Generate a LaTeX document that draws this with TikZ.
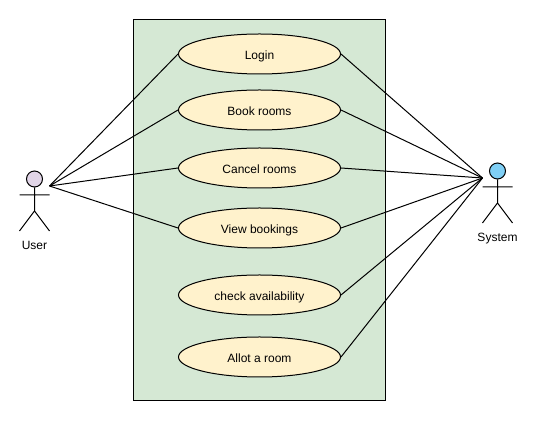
\documentclass[tikz,border=0pt]{standalone}
\usepackage{fontspec}
\setmainfont{Liberation Sans}
\usetikzlibrary{shapes.geometric}
\definecolor{sysgreen}{HTML}{D5E8D4}
\definecolor{ucfill}{HTML}{FFF2CC}
\definecolor{userfill}{HTML}{E1D5E7}
\definecolor{sysfill}{HTML}{7FCFF5}
\tikzset{
  ln/.style={draw=black,line width=0.75pt},
  usecase/.style={ellipse,ln,fill=ucfill,minimum width=121.5pt,minimum height=30pt,inner sep=0pt,text height=10.2pt,text depth=1.5pt,font=\fontsize{9}{11}\selectfont},
  head/.style={circle,ln,minimum size=12pt,inner sep=0pt},
  actorlabel/.style={font=\fontsize{9}{11}\selectfont,inner sep=0pt,anchor=base},
}
\begin{document}
\begin{tikzpicture}[x=0.75pt,y=-0.75pt,every path/.style={line width=0.75pt}]
\useasboundingbox (0,0) rectangle (533,423);
\node[ln,fill=sysgreen,minimum width=189pt,minimum height=285.75pt,inner sep=0pt] (boundary) at (259.5,210) {};
\node[usecase] (login) at (259.5,54) {Login};
\node[usecase] (book) at (259.5,110) {Book rooms};
\node[usecase] (cancel) at (259.5,168) {Cancel rooms};
\node[usecase] (view) at (259.5,228) {View bookings};
\node[usecase] (check) at (259.5,295) {check availability};
\node[usecase] (allot) at (259.5,357) {Allot a room};
% user actor
\node[head,fill=userfill] (uhead) at (34.5,179) {};
\coordinate (uarmL) at (19.5,195);
\coordinate (uarmR) at (49.5,195);
\coordinate (uhip) at (34.5,211);
\coordinate (ulegL) at (19.5,231);
\coordinate (ulegR) at (49.5,231);
\draw[ln] (uhead.south) -- (uhip) (uarmL) -- (uarmR) (ulegL) -- (uhip) -- (ulegR);
\node[actorlabel] (ulabel) at (34.5,249.8) {User};
\coordinate (utip) at (49.5,186);
% system actor
\node[head,fill=sysfill] (shead) at (497.5,171) {};
\coordinate (sarmL) at (482.5,187);
\coordinate (sarmR) at (512.5,187);
\coordinate (ship) at (497.5,203);
\coordinate (slegL) at (482.5,223);
\coordinate (slegR) at (512.5,223);
\draw[ln] (shead.south) -- (ship) (sarmL) -- (sarmR) (slegL) -- (ship) -- (slegR);
\node[actorlabel] (slabel) at (497.5,241.8) {System};
\coordinate (stip) at (482.5,178);
% connectors
\foreach \n in {login,book,cancel,view}
  \draw[ln] (utip) -- (\n.west);
\foreach \n in {login,book,cancel,view,check,allot}
  \draw[ln] (\n.east) -- (stip);
\end{tikzpicture}
\end{document}
